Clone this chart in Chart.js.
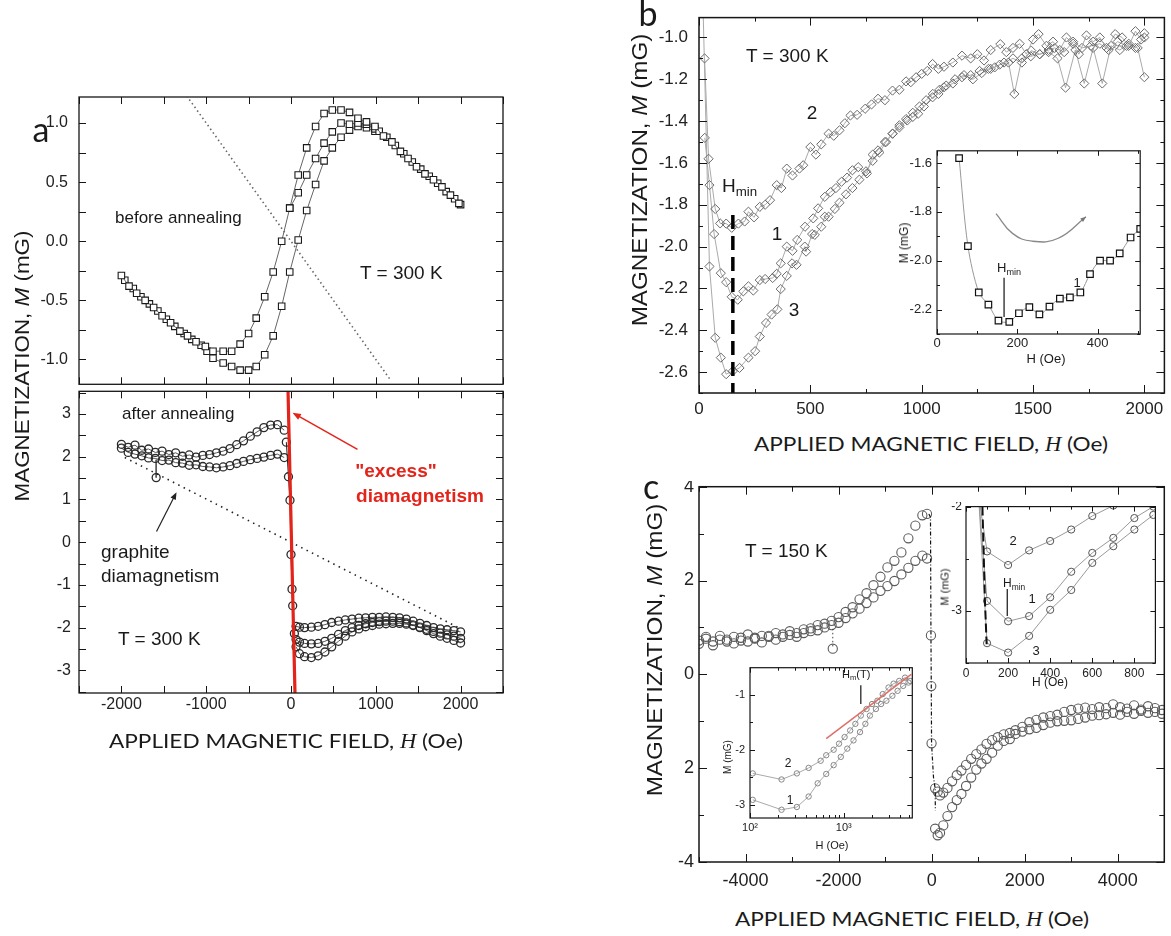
<!DOCTYPE html>
<html>
<head>
<meta charset="utf-8">
<title>Magnetization vs applied field</title>
<script src="https://cdn.jsdelivr.net/npm/chart.js@4.4.1/dist/chart.umd.min.js"></script>
<style>
  html, body { margin: 0; padding: 0; background: #fff; }
  body { position: relative; width: 1171px; height: 936px; overflow: hidden;
         font-family: "Liberation Sans", Arial, sans-serif; color: #1a1a1a; }
  canvas { position: absolute; }
  .t { position: absolute; white-space: nowrap; line-height: 1; }
  .t sub { font-size: 0.7em; vertical-align: -0.35em; line-height: 0; }
  .h { font-family: "Liberation Serif", serif; font-style: italic; }
</style>
</head>
<body>
<canvas id="aTop"></canvas>
<canvas id="aBot"></canvas>
<canvas id="bMain"></canvas>
<canvas id="bIn"></canvas>
<canvas id="cMain"></canvas>
<canvas id="cRi"></canvas>
<canvas id="cLi"></canvas>
<script>
// ===============================
// DATA — panel a, top (before annealing, squares)
// ===============================
const aTopH_A = [-2000,-1910,-1820,-1720,-1620,-1520,-1420,-1310,-1220,-1120,-1010,-920,-800,-700,-600,-500,-410,-310,-210,-110,-15,85,185,290,390,487,590,690,790,890,990,1090,1190,1290,1380,1480,1580,1680,1780,1880,1980];
const aTopM_A = [-0.29,-0.38,-0.44,-0.50,-0.56,-0.63,-0.69,-0.76,-0.80,-0.85,-0.89,-0.93,-0.93,-0.93,-0.87,-0.78,-0.65,-0.47,-0.26,0.0,0.28,0.56,0.79,0.97,1.08,1.11,1.11,1.09,1.04,1.01,0.97,0.89,0.84,0.76,0.70,0.63,0.57,0.52,0.46,0.39,0.32];
const aTopH_B = [-1960,-1860,-1770,-1670,-1570,-1470,-1370,-1260,-1170,-1060,-990,-920,-800,-700,-600,-500,-410,-310,-210,-110,-15,85,185,290,390,487,590,690,790,890,990,1130,1230,1330,1430,1530,1630,1730,1830,1930,2000];
const aTopM_B = [-0.33,-0.40,-0.47,-0.53,-0.59,-0.66,-0.72,-0.78,-0.83,-0.88,-0.93,-0.99,-1.03,-1.06,-1.09,-1.09,-1.06,-0.96,-0.80,-0.55,-0.26,0.01,0.26,0.48,0.68,0.79,0.88,0.94,0.97,0.96,0.93,0.88,0.81,0.74,0.67,0.61,0.55,0.49,0.42,0.36,0.31];
const aTopH_C = [-15,85,185,290,390,487,590,690,790,890,990,1040];
const aTopM_C = [0.28,0.41,0.56,0.70,0.83,0.925,1.0,0.99,1.0,0.99,0.95,0.93];
const aTopGraphH = [-1230, 1180];
const aTopGraphM = [1.23, -1.18];

// panel a, bottom (after annealing, circles)
const aBotHL = [-2000,-1920,-1840,-1760,-1680,-1600,-1520,-1440,-1360,-1280,-1200,-1120,-1040,-960,-880,-800,-720,-640,-560,-480,-400,-320,-240,-160,-80];
const aBotU  = [2.29,2.22,2.27,2.15,2.18,2.10,2.13,2.05,2.09,2.01,2.04,1.99,2.03,2.05,2.09,2.13,2.19,2.28,2.37,2.48,2.58,2.68,2.74,2.75,2.62];
const aBotL  = [2.20,2.10,2.06,2.02,1.97,1.96,1.91,1.92,1.86,1.85,1.80,1.81,1.77,1.76,1.74,1.76,1.79,1.84,1.89,1.93,1.96,1.99,2.03,2.06,1.98];
const aBotCenH = [-55,-30,-12,0,12,20,40];
const aBotCenM = [2.34,1.53,0.98,-0.29,-1.10,-1.49,-2.14];
const aBotHR = [60,100,160,240,320,400,480,560,640,720,800,880,960,1040,1120,1200,1280,1360,1440,1520,1600,1680,1760,1840,1920,2000];
const aBotR1 = [-1.97,-1.99,-2.0,-1.99,-1.97,-1.93,-1.88,-1.85,-1.82,-1.80,-1.78,-1.77,-1.76,-1.76,-1.75,-1.76,-1.77,-1.80,-1.85,-1.90,-1.95,-2.0,-2.03,-2.05,-2.07,-2.10];
const aBotR2 = [-2.28,-2.34,-2.37,-2.38,-2.37,-2.32,-2.25,-2.16,-2.07,-2.0,-1.95,-1.91,-1.88,-1.86,-1.85,-1.85,-1.86,-1.89,-1.94,-2.0,-2.07,-2.14,-2.2,-2.25,-2.3,-2.36];
const aBotR3 = [-2.45,-2.61,-2.68,-2.70,-2.66,-2.57,-2.45,-2.32,-2.2,-2.1,-2.03,-1.98,-1.95,-1.92,-1.91,-1.9,-1.9,-1.92,-1.95,-1.99,-2.04,-2.09,-2.13,-2.17,-2.2,-2.25];
const aBotOutH = [-1590,-1590];
const aBotOutM = [1.93,1.51];
const aRedH = [-35, 47];
const aRedM = [3.53, -3.53];
const aGraphH = [-1960, 1975];
const aGraphM = [1.98, -2.0];

// ticks panel a
const aXTicks = [-2000,-1000,0,1000,2000];
const aXLabels = ['-2000','-1000','0','1000','2000'];
const aTopYTicks = [-1.0,-0.5,0.0,0.5,1.0];
const aTopYLabels = ['-1.0','-0.5','0.0','0.5','1.0'];
const aBotYTicks = [-3,-2,-1,0,1,2,3];
const aBotYLabels = ['-3','-2','-1','0','1','2','3'];

// ===============================
// DATA — panel b (T = 300 K, diamonds)
// ===============================
const bH2 = [25,43,73,95,122,147,177,205,222,247,273,297,319,349,370,394,420,451,468,500,525,549,582,605,631,655,680,710,746,775,804,835,869,900,930,951,975,1000,1025,1049,1075,1100,1140,1181,1220,1250,1280,1310,1353,1380,1410,1440,1470,1500,1525,1560,1590,1620,1650,1680,1706,1740,1770,1800,1830,1869,1900,1930,1960,1985,2000];
const bM2 = [-1.10,-1.58,-1.82,-1.889,-1.89,-1.91,-1.89,-1.88,-1.833,-1.86,-1.81,-1.80,-1.778,-1.706,-1.72,-1.627,-1.66,-1.627,-1.611,-1.524,-1.56,-1.511,-1.46,-1.47,-1.444,-1.41,-1.373,-1.37,-1.341,-1.32,-1.293,-1.30,-1.254,-1.25,-1.21,-1.214,-1.19,-1.174,-1.16,-1.127,-1.15,-1.14,-1.12,-1.087,-1.10,-1.08,-1.11,-1.06,-1.032,-1.07,-1.05,-1.03,-1.08,-1.01,-0.984,-1.04,-1.02,-1.06,-1.0,-1.03,-1.08,-0.99,-1.02,-1.0,-1.05,-0.984,-1.0,-1.04,-0.97,-1.01,-0.98];
const bH1 = [26,47,68,98,122,147,174,199,222,244,273,297,331,349,367,394,420,441,476,513,535,565,590,615,640,665,689,715,754,780,804,835,869,900,935,960,984,1010,1049,1075,1100,1140,1181,1220,1260,1300,1328,1370,1410,1450,1492,1530,1570,1597,1640,1680,1720,1760,1800,1840,1880,1920,1960,2000];
const bM1 = [-1.48,-1.706,-1.94,-2.127,-2.17,-2.24,-2.254,-2.214,-2.19,-2.21,-2.16,-2.155,-2.15,-2.13,-2.08,-2.0,-2.02,-1.968,-1.905,-1.865,-1.817,-1.762,-1.74,-1.72,-1.69,-1.67,-1.635,-1.62,-1.65,-1.56,-1.54,-1.5,-1.46,-1.43,-1.397,-1.38,-1.365,-1.33,-1.286,-1.27,-1.238,-1.22,-1.19,-1.18,-1.16,-1.15,-1.143,-1.12,-1.10,-1.12,-1.063,-1.08,-1.06,-1.05,-1.07,-1.02,-1.05,-1.04,-1.03,-1.06,-1.02,-1.04,-1.05,-1.0];
const bH3 = [18,47,73,98,122,152,182,222,252,273,301,326,352,367,394,418,438,475,481,508,520,549,565,582,610,631,660,689,720,750,780,810,840,870,900,930,960,990,1020,1050,1080,1110,1150,1190,1230,1270,1310,1350,1390,1416,1450,1490,1530,1570,1610,1646,1690,1730,1770,1811,1850,1890,1930,1970,2000];
const bM3 = [-0.85,-2.095,-2.436,-2.531,-2.61,-2.595,-2.58,-2.531,-2.5,-2.43,-2.365,-2.325,-2.30,-2.203,-2.14,-2.08,-2.087,-2.0,-2.024,-1.94,-1.944,-1.905,-1.857,-1.857,-1.82,-1.79,-1.75,-1.72,-1.68,-1.64,-1.59,-1.55,-1.5,-1.46,-1.42,-1.39,-1.36,-1.33,-1.3,-1.27,-1.25,-1.23,-1.2,-1.18,-1.2,-1.17,-1.15,-1.13,-1.12,-1.27,-1.1,-1.09,-1.08,-1.07,-1.1,-1.24,-1.06,-1.22,-1.05,-1.22,-1.04,-1.06,-1.03,-1.05,-1.19];
const bHminH = [152, 152];
const bHminM = [-1.849, -2.7];
const bXTicks = [0,500,1000,1500,2000];
const bXLabels = ['0','500','1000','1500','2000'];
const bYTicks = [-2.6,-2.4,-2.2,-2.0,-1.8,-1.6,-1.4,-1.2,-1.0];
const bYLabels = ['-2.6','-2.4','-2.2','-2.0','-1.8','-1.6','-1.4','-1.2','-1.0'];

// panel b inset (curve 1, squares)
const bInH = [55,77,104,128,153,180,204,230,255,280,306,331,357,381,406,431,455,482,506];
const bInM = [-1.58,-1.94,-2.13,-2.18,-2.245,-2.25,-2.215,-2.19,-2.22,-2.188,-2.155,-2.15,-2.13,-2.055,-2.0,-2.0,-1.97,-1.905,-1.87];
const bArcH = [147,188,237,302,371];
const bArcM = [-1.807,-1.888,-1.92,-1.908,-1.82];
const bInHminH = [167,167];
const bInHminM = [-2.07,-2.23];
const bInXTicks = [0,200,400];
const bInXLabels = ['0','200','400'];
const bInYTicks = [-2.2,-2.0,-1.8,-1.6];
const bInYLabels = ['-2.2','-2.0','-1.8','-1.6'];

// ===============================
// DATA — panel c (T = 150 K, circles)
// ===============================
const cHL = [-5000,-4850,-4700,-4550,-4400,-4250,-4100,-3950,-3800,-3650,-3500,-3350,-3200,-3050,-2900,-2750,-2600,-2450,-2300,-2150,-2000,-1850,-1700,-1550,-1400,-1250,-1100,-950,-800,-650,-500,-350,-200,-100];
const cU  = [0.72,0.80,0.70,0.82,0.74,0.80,0.72,0.85,0.78,0.82,0.80,0.88,0.85,0.92,0.88,0.96,0.98,1.05,1.08,1.14,1.22,1.33,1.43,1.60,1.73,1.90,2.08,2.28,2.42,2.60,2.90,3.17,3.39,3.42];
const cL  = [0.65,0.76,0.62,0.74,0.70,0.66,0.78,0.70,0.76,0.68,0.82,0.74,0.80,0.84,0.80,0.88,0.92,0.94,1.0,1.05,1.10,1.20,1.30,1.40,1.52,1.64,1.78,1.88,1.99,2.13,2.27,2.42,2.53,2.47];
const cHR = [75,130,180,250,340,440,540,640,740,850,960,1070,1180,1300,1420,1550,1680,1800,1950,2100,2250,2400,2550,2700,2850,3000,3150,3300,3450,3600,3750,3900,4050,4200,4350,4500,4650,4800,4950];
const cR1 = [-2.43,-2.50,-2.58,-2.52,-2.42,-2.28,-2.15,-2.05,-1.93,-1.80,-1.70,-1.60,-1.48,-1.40,-1.34,-1.28,-1.25,-1.19,-1.12,-1.02,-0.97,-0.92,-0.89,-0.86,-0.80,-0.76,-0.73,-0.71,-0.74,-0.70,-0.72,-0.64,-0.70,-0.73,-0.66,-0.75,-0.68,-0.72,-0.76];
const cR2 = [-3.29,-3.43,-3.38,-3.22,-3.02,-2.83,-2.68,-2.55,-2.38,-2.20,-2.03,-1.90,-1.80,-1.67,-1.52,-1.42,-1.38,-1.27,-1.22,-1.17,-1.14,-1.08,-1.03,-1.00,-0.99,-0.98,-0.95,-0.92,-0.88,-0.87,-0.85,-0.82,-0.86,-0.80,-0.84,-0.78,-0.82,-0.80,-0.84];
const cCenH = [-60,-25,-15,-8,-2,40,75,80];
const cCenM = [3.42,3.35,0.83,-0.25,-1.47,-2.2,-2.43,-2.9];
const cOutH = [-2125,-2125];
const cOutM = [0.97,0.547];
const cXTicks = [-4000,-2000,0,2000,4000];
const cXLabels = ['-4000','-2000','0','2000','4000'];
const cYTicks = [-4,-2,0,2,4];
const cYLabels = ['-4','2','0','2','4'];

// panel c, right inset (linear H)
const cRiH  = [60,100,200,300,400,500,600,700,800,890];
const cRi2M = [-1.9,-2.43,-2.56,-2.42,-2.33,-2.22,-2.09,-1.99,-1.9,-1.82];
const cRi1M = [-1.9,-2.905,-3.10,-3.05,-2.87,-2.625,-2.444,-2.30,-2.11,-2.0];
const cRi3M = [-1.9,-3.31,-3.40,-3.24,-2.99,-2.80,-2.54,-2.38,-2.22,-2.08];
const cRiBlkH = [78,90,98];
const cRiBlkM = [-2.0,-2.9,-3.32];
const cRiHminH = [196,196];
const cRiHminM = [-2.79,-3.05];
const cRiXTicks = [0,200,400,600,800];
const cRiXLabels = ['0','200','400','600','800'];
const cRiYTicks = [-3,-2];
const cRiYLabels = ['-3','-2'];

// panel c, left inset (log H)
const cLi2H = [107,217,316,422,567,650,780,890,1020,1170,1330,1520,1750,2000,2280,2600,3000,3400,3900,4500,5100];
const cLi2M = [-2.43,-2.54,-2.43,-2.33,-2.2,-2.1,-2.0,-1.89,-1.77,-1.65,-1.53,-1.38,-1.26,-1.17,-1.11,-0.99,-0.87,-0.8,-0.75,-0.69,-0.75];
const cLi1H = [107,217,316,422,527,650,780,930,1090,1270,1490,1700,1900,2200,2500,2850,3300,3750,4300,4900];
const cLi1M = [-2.91,-3.09,-3.04,-2.85,-2.61,-2.44,-2.28,-2.13,-1.98,-1.83,-1.68,-1.53,-1.38,-1.26,-1.17,-1.11,-1.02,-0.93,-0.84,-0.78];
const cLiRedH = [650,5230];
const cLiRedM = [-1.8,-0.63];
const cLiHmH = [1520,1520];
const cLiHmM = [-0.83,-1.17];
const cLiXTicks = [100,1000];
const cLiXLabels = ['10\u00b2','10\u00b3'];
const cLiYTicks = [-3,-2,-1];
const cLiYLabels = ['-3','-2','-1'];

// ===============================
// helpers
// ===============================
const SANS = '"Liberation Sans", Arial, sans-serif';
const RED = '#e3241b';
const pts = (xs, ys) => xs.map((x, i) => ({ x, y: ys[i] }));

function ser(xs, ys, o) {
  return Object.assign({
    data: pts(xs, ys), showLine: true, fill: false,
    borderWidth: 1, borderColor: '#888',
    pointRadius: 0, pointHoverRadius: 0, pointBorderWidth: 1,
    pointBackgroundColor: 'rgba(255,255,255,0)'
  }, o);
}

// frame + ticks pointing inwards on all four sides
function framePlugin(f) {
  const list = (s, c) => {
    const out = [];
    if (c.log) {
      for (let d = 1; d <= s.max; d *= 10)
        for (let k = 1; k < 10; k++) { const v = k * d; if (v >= s.min && v <= s.max) out.push([v, k === 1]); }
    } else {
      const n0 = Math.ceil(s.min / c.step - 1e-9), n1 = Math.floor(s.max / c.step + 1e-9);
      for (let n = n0; n <= n1; n++) {
        const v = n * c.step, r = v / c.major;
        out.push([v, Math.abs(r - Math.round(r)) < 1e-6]);
      }
    }
    return out;
  };
  return {
    id: 'frame',
    beforeDraw(chart) {
      if (!f.fill) return;
      const a = chart.chartArea, ctx = chart.ctx;
      ctx.save(); ctx.fillStyle = '#fff';
      ctx.fillRect(a.left, a.top, a.right - a.left, a.bottom - a.top);
      ctx.restore();
    },
    afterDraw(chart) {
      const { ctx, chartArea: a, scales: { x, y } } = chart;
      const [L, S] = f.len;
      ctx.save();
      ctx.strokeStyle = '#161616';
      ctx.lineWidth = 1;
      ctx.beginPath();
      for (const [v, maj] of list(x, f.x)) {
        const p = Math.round(x.getPixelForValue(v)) + 0.5, l = maj ? L : S;
        ctx.moveTo(p, a.bottom); ctx.lineTo(p, a.bottom - l);
        ctx.moveTo(p, a.top); ctx.lineTo(p, a.top + l);
      }
      for (const [v, maj] of list(y, f.y)) {
        const p = Math.round(y.getPixelForValue(v)) + 0.5, l = maj ? L : S;
        ctx.moveTo(a.left, p); ctx.lineTo(a.left + l, p);
        ctx.moveTo(a.right, p); ctx.lineTo(a.right - l, p);
      }
      ctx.stroke();
      ctx.lineWidth = f.lw;
      ctx.strokeRect(a.left, a.top, a.right - a.left, a.bottom - a.top);
      ctx.restore();
    }
  };
}

function arrowPlugin(arrows) {
  return {
    id: 'arrows',
    afterDatasetsDraw(chart) {
      const { ctx, scales: { x, y } } = chart;
      for (const a of arrows) {
        const x0 = x.getPixelForValue(a.from[0]), y0 = y.getPixelForValue(a.from[1]);
        const x1 = x.getPixelForValue(a.to[0]), y1 = y.getPixelForValue(a.to[1]);
        const ang = Math.atan2(y1 - y0, x1 - x0), hl = a.head || 8;
        ctx.save();
        ctx.strokeStyle = ctx.fillStyle = a.color;
        ctx.lineWidth = a.width || 1.2;
        if (!a.headOnly) {
          ctx.beginPath(); ctx.moveTo(x0, y0);
          ctx.lineTo(x1 - Math.cos(ang) * hl * 0.6, y1 - Math.sin(ang) * hl * 0.6);
          ctx.stroke();
        }
        ctx.beginPath(); ctx.moveTo(x1, y1);
        ctx.lineTo(x1 - hl * Math.cos(ang - 0.38), y1 - hl * Math.sin(ang - 0.38));
        ctx.lineTo(x1 - hl * Math.cos(ang + 0.38), y1 - hl * Math.sin(ang + 0.38));
        ctx.closePath(); ctx.fill();
        ctx.restore();
      }
    }
  };
}

function axis(c, isX, box) {
  return {
    type: c.log ? 'logarithmic' : 'linear',
    position: isX ? 'bottom' : 'left',
    min: c.min, max: c.max,
    grid: { display: false, drawTicks: false },
    border: { display: false },
    ticks: {
      display: c.show !== false,
      autoSkip: false, maxRotation: 0, minRotation: 0,
      font: { family: SANS, size: c.size },
      color: '#222',
      padding: c.pad,
      callback: (v, i) => c.labels[i]
    },
    afterBuildTicks: s => { s.ticks = c.ticks.map(v => ({ value: v })); },
    afterFit: s => {
      if (isX) s.height = box.mb; else s.width = box.ml;
      s.paddingLeft = s.paddingRight = s.paddingTop = s.paddingBottom = 0;
    }
  };
}

function makeChart(id, box, xc, yc, datasets, frame, arrows) {
  const cv = document.getElementById(id);
  const w = box.r - box.l + box.ml + box.mr, h = box.b - box.t + box.mt + box.mb;
  cv.width = w; cv.height = h;
  Object.assign(cv.style, { left: (box.l - box.ml) + 'px', top: (box.t - box.mt) + 'px', width: w + 'px', height: h + 'px' });
  return new Chart(cv, {
    type: 'scatter',
    data: { datasets },
    options: {
      responsive: false, animation: false, devicePixelRatio: 1, events: [],
      layout: { padding: { left: 0, top: box.mt, right: box.mr, bottom: 0 } },
      scales: { x: axis(xc, true, box), y: axis(yc, false, box) },
      plugins: { legend: { display: false }, tooltip: { enabled: false } }
    },
    plugins: [framePlugin(frame), arrowPlugin(arrows || [])]
  });
}

// how: 'c' centre, 'l' left-middle, 'r' rotated (reads upwards); sx stretches along the text
function txt(html, x, y, css, how, sx) {
  const d = document.createElement('div');
  d.className = 't';
  d.innerHTML = html;
  const s = sx ? ' scaleX(' + sx + ')' : '';
  d.style.cssText = css + ';left:' + x + 'px;top:' + y + 'px;transform:' +
    (how === 'r' ? 'translate(-50%,-50%) rotate(-90deg)' + s : how === 'l' ? 'translate(0,-50%)' + s : 'translate(-50%,-50%)' + s);
  if (how === 'l' && sx) d.style.transformOrigin = '0 50%';
  document.body.appendChild(d);
}

// ===============================
// panel a
// ===============================
const sq = { pointStyle: 'rect', pointRadius: 4.6, pointBorderColor: '#1a1a1a', pointBackgroundColor: '#fff', pointBorderWidth: 1.1, borderColor: '#666', borderWidth: 1 };
makeChart('aTop', { l: 79, t: 97, r: 503, b: 388, ml: 60, mt: 10, mr: 10, mb: 2 },
  { min: -2500, max: 2500, ticks: aXTicks, labels: aXLabels, size: 16, pad: 2, show: false },
  { min: -1.21, max: 1.22, ticks: aTopYTicks, labels: aTopYLabels, size: 16, pad: 11 },
  [
    ser(aTopGraphH, aTopGraphM, { borderColor: '#666', borderWidth: 1.6, borderDash: [1.5, 3] }),
    ser(aTopH_A, aTopM_A, sq),
    ser(aTopH_C, aTopM_C, sq),
    ser(aTopH_B, aTopM_B, sq)
  ],
  { x: { step: 500, major: 500 }, y: { step: 0.25, major: 0.25 }, len: [7, 7], lw: 1.3 });

const ci = { pointStyle: 'circle', pointRadius: 4, pointBorderColor: '#2a2a2a', pointBorderWidth: 1.3, borderColor: '#555', borderWidth: 1 };
makeChart('aBot', { l: 79, t: 388, r: 503, b: 693, ml: 60, mt: 2, mr: 10, mb: 30 },
  { min: -2500, max: 2500, ticks: aXTicks, labels: aXLabels, size: 16, pad: 2 },
  { min: -3.53, max: 3.53, ticks: aBotYTicks, labels: aBotYLabels, size: 16, pad: 8 },
  [
    ser(aRedH, aRedM, { borderColor: RED, borderWidth: 3.2 }),
    ser(aGraphH, aGraphM, { borderColor: '#222', borderWidth: 1.6, borderDash: [1.5, 4.5] }),
    ser(aBotCenH, aBotCenM, Object.assign({}, ci, { borderColor: '#222' })),
    ser(aBotHL, aBotU, ci),
    ser(aBotHL, aBotL, ci),
    ser(aBotHR, aBotR1, ci),
    ser(aBotHR, aBotR2, ci),
    ser(aBotHR, aBotR3, ci),
    ser(aBotOutH, aBotOutM, Object.assign({}, ci, { pointRadius: [0, 4] }))
  ],
  { x: { step: 500, major: 500 }, y: { step: 0.5, major: 0.5 }, len: [7, 7], lw: 1.3 },
  [
    { from: [784, 2.17], to: [18, 3.03], color: RED, width: 1.5, head: 9 },
    { from: [-1586, 0.25], to: [-1350, 1.17], color: '#222', width: 1.2, head: 8 }
  ]);

// ===============================
// panel b
// ===============================
const dm = { pointStyle: 'rectRot', pointRadius: 4.6, pointBorderColor: '#6a6a6a', pointBorderWidth: 1, borderColor: '#aaa', borderWidth: 1 };
makeChart('bMain', { l: 699, t: 17, r: 1165, b: 393, ml: 60, mt: 5, mr: 5, mb: 30 },
  { min: 0, max: 2090, ticks: bXTicks, labels: bXLabels, size: 17, pad: 6 },
  { min: -2.7, max: -0.905, ticks: bYTicks, labels: bYLabels, size: 17, pad: 11 },
  [
    ser(bHminH, bHminM, { borderColor: '#000', borderWidth: 3.5, borderDash: [14, 7] }),
    ser(bH2, bM2, dm),
    ser(bH1, bM1, dm),
    ser(bH3, bM3, dm)
  ],
  { x: { step: 250, major: 500 }, y: { step: 0.1, major: 0.2 }, len: [8, 4], lw: 1.5 });

makeChart('bIn', { l: 937, t: 148, r: 1143, b: 334, ml: 40, mt: 3, mr: 3, mb: 22 },
  { min: 0, max: 506, ticks: bInXTicks, labels: bInXLabels, size: 13, pad: 2 },
  { min: -2.30, max: -1.55, ticks: bInYTicks, labels: bInYLabels, size: 13, pad: 5 },
  [
    ser(bInHminH, bInHminM, { borderColor: '#111', borderWidth: 1.2 }),
    ser(bArcH, bArcM, { borderColor: '#888', borderWidth: 1.3, tension: 0.45 }),
    ser(bInH, bInM, { pointStyle: 'rect', pointRadius: 4.6, pointBorderColor: '#111', pointBackgroundColor: '#fff', pointBorderWidth: 1.2, borderColor: '#999', borderWidth: 1, tension: 0.3 })
  ],
  { x: { step: 100, major: 200 }, y: { step: 0.1, major: 0.2 }, len: [5, 3], lw: 1.2, fill: true },
  [ { from: [345, -1.855], to: [371, -1.82], color: '#777', headOnly: true, head: 6 } ]);

// ===============================
// panel c
// ===============================
const cc = { pointStyle: 'circle', pointRadius: 4.6, pointBorderColor: '#5a5a5a', pointBorderWidth: 1.1, showLine: false };
makeChart('cMain', { l: 699, t: 486, r: 1166, b: 862, ml: 50, mt: 5, mr: 4, mb: 30 },
  { min: -5000, max: 5000, ticks: cXTicks, labels: cXLabels, size: 18, pad: 8 },
  { min: -4, max: 4, ticks: cYTicks, labels: cYLabels, size: 18, pad: 5 },
  [
    ser(cCenH, cCenM, { borderColor: '#111', borderWidth: 1.2, borderDash: [4, 2, 1, 2], pointRadius: [0, 0, 4.6, 4.6, 4.6, 0, 0, 0], pointBorderColor: '#5a5a5a', pointBorderWidth: 1.1 }),
    ser(cOutH, cOutM, { borderColor: '#444', borderWidth: 1, borderDash: [1.5, 2.5], pointRadius: [0, 4.6], pointBorderColor: '#5a5a5a', pointBorderWidth: 1.1 }),
    ser(cHL, cU, cc),
    ser(cHL, cL, cc),
    ser(cHR, cR1, cc),
    ser(cHR, cR2, cc)
  ],
  { x: { step: 1000, major: 2000 }, y: { step: 1, major: 2 }, len: [8, 5], lw: 1.5 });

const ri = { pointStyle: 'circle', pointRadius: [0, 3.6, 3.6, 3.6, 3.6, 3.6, 3.6, 3.6, 3.6, 3.6], pointBorderColor: '#555', pointBorderWidth: 1, borderColor: '#999', borderWidth: 1 };
makeChart('cRi', { l: 966, t: 505, r: 1157, b: 663, ml: 25, mt: 3, mr: 3, mb: 20 },
  { min: 0, max: 900, ticks: cRiXTicks, labels: cRiXLabels, size: 12, pad: 3 },
  { min: -3.5, max: -2, ticks: cRiYTicks, labels: cRiYLabels, size: 12, pad: 4 },
  [
    ser(cRiHminH, cRiHminM, { borderColor: '#111', borderWidth: 1.2 }),
    ser(cRiBlkH, cRiBlkM, { borderColor: '#111', borderWidth: 2, borderDash: [9, 4] }),
    ser(cRiH, cRi2M, ri),
    ser(cRiH, cRi1M, ri),
    ser(cRiH, cRi3M, ri)
  ],
  { x: { step: 100, major: 200 }, y: { step: 0.5, major: 1 }, len: [5, 3], lw: 1.2, fill: true });

const li = { pointStyle: 'circle', pointRadius: 2.7, pointBorderColor: '#888', pointBorderWidth: 1, borderColor: '#aaa', borderWidth: 1 };
makeChart('cLi', { l: 750, t: 667, r: 913, b: 818, ml: 22, mt: 3, mr: 3, mb: 20 },
  { log: true, min: 100, max: 5380, ticks: cLiXTicks, labels: cLiXLabels, size: 11, pad: 3 },
  { min: -3.24, max: -0.51, ticks: cLiYTicks, labels: cLiYLabels, size: 11, pad: 5 },
  [
    ser(cLiHmH, cLiHmM, { borderColor: '#111', borderWidth: 1.2 }),
    ser(cLiRedH, cLiRedM, { borderColor: '#df6f68', borderWidth: 1.5 }),
    ser(cLi2H, cLi2M, li),
    ser(cLi1H, cLi1M, li)
  ],
  { x: { log: true }, y: { step: 0.5, major: 1 }, len: [5, 3], lw: 1.2, fill: true });

// ===============================
// text
// ===============================
const XT = 'APPLIED MAGNETIC FIELD, <span class="h">H</span> (Oe)';
const YT = 'MAGNETIZATION, <i>M</i> (mG)';

// a
txt('a', 41, 128, 'font:34px Lato', 'c');
txt(YT, 22, 366, 'font-size:20px', 'r', 1.12);
txt('before annealing', 115, 217, 'font-size:17px', 'l');
txt('T = 300 K', 360, 272, 'font-size:19px', 'l');
txt('after annealing', 122, 413, 'font-size:17px', 'l');
txt('graphite<br>diamagnetism', 101, 564, 'font-size:19px;line-height:24px', 'l');
txt('T = 300 K', 118, 638, 'font-size:19px', 'l');
txt('"excess"', 396, 470, 'font-size:19px;font-weight:bold;color:' + RED, 'c');
txt('diamagnetism', 420, 495, 'font-size:19px;font-weight:bold;color:' + RED, 'c');
txt(XT, 286, 740, 'font:20px Lato', 'c', 1.13);

// b
txt('b', 648, 12, 'font:34px Lato', 'c');
txt(YT, 640, 180, 'font-size:22px', 'r', 1.1);
txt('T = 300 K', 746, 55, 'font-size:19px', 'l');
txt('2', 812, 112, 'font-size:19px', 'c');
txt('1', 777, 233, 'font-size:19px', 'c');
txt('3', 794, 309, 'font-size:19px', 'c');
txt('H<sub>min</sub>', 722, 185, 'font-size:19px', 'l');
txt(XT, 931, 443, 'font:20px Lato', 'c', 1.13);
txt('M (mG)', 904, 243, 'font-size:12px', 'r');
txt('H (Oe)', 1046, 358, 'font-size:13px', 'c');
txt('H<sub>min</sub>', 997, 267, 'font-size:13px', 'l');
txt('1', 1077, 282, 'font-size:13px', 'c');

// c
txt('c', 651, 485, 'font:34px Lato', 'c');
txt(YT, 655, 650, 'font-size:22px', 'r', 1.1);
txt('T = 150 K', 745, 550, 'font-size:19px', 'l');
txt(XT, 912, 918, 'font:20px Lato', 'c', 1.13);
txt('M (mG)', 945, 587, 'font-size:11px', 'r');
txt('H (Oe)', 1050, 682, 'font-size:12px', 'c');
txt('2', 1013, 540, 'font-size:13px', 'c');
txt('H<sub>min</sub>', 1003, 583, 'font-size:12px', 'l');
txt('1', 1032, 598, 'font-size:13px', 'c');
txt('3', 1036, 650, 'font-size:13px', 'c');
txt('M (mG)', 728, 757, 'font-size:10px', 'r');
txt('H (Oe)', 832, 845, 'font-size:11px', 'c');
txt('2', 788, 763, 'font-size:12px', 'c');
txt('1', 790, 800, 'font-size:12px', 'c');
txt('H<sub>m</sub>(T)', 842, 674, 'font-size:11px', 'l');
</script>
</body>
</html>
